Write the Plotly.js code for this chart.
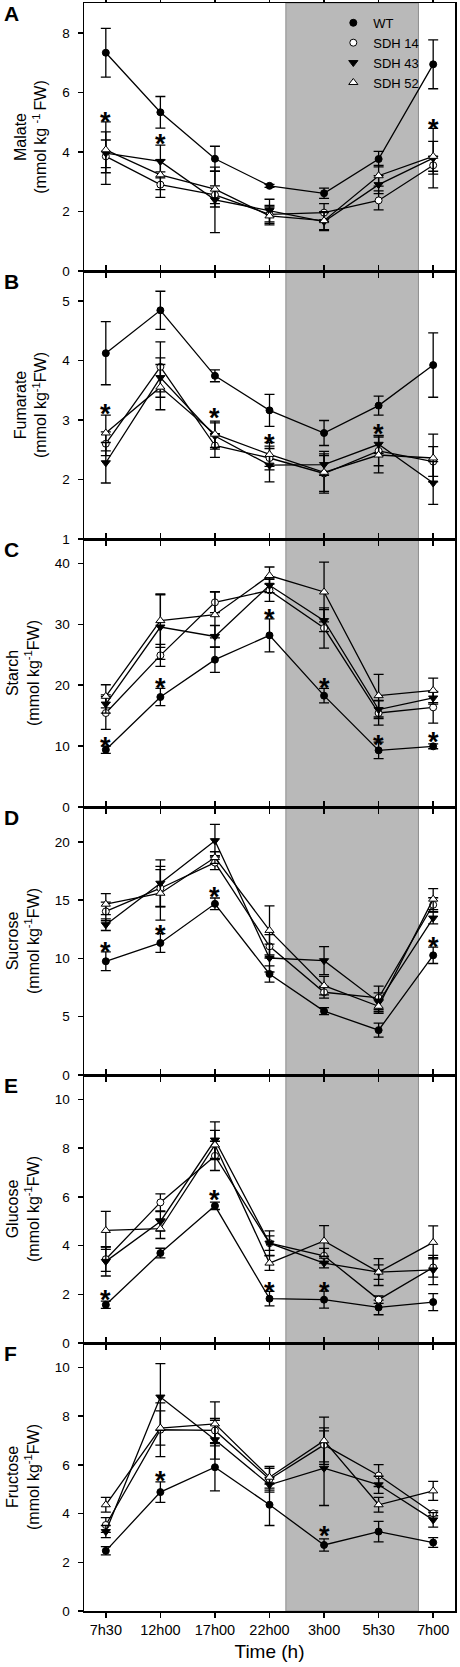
<!DOCTYPE html>
<html><head><meta charset="utf-8">
<script src="https://cdn.plot.ly/plotly-3.0.1.min.js"></script>
<style>body{margin:0;padding:0;background:#fff}#chart{width:460px;height:1667px}</style>
</head><body><div id="chart"></div>
<script>
const times = ['7h30','12h00','17h00','22h00','3h00','5h30','7h00'];
const lineNames = ['WT','SDH 14','SDH 43','SDH 52'];

// A Malate
const malateWT = [7.33, 5.33, 3.77, 2.86, 2.61, 3.76, 6.94];
const malateWTErr = [0.82, 0.53, 0.42, 0.05, 0.17, 0.26, 0.82];
const malate14 = [3.85, 2.90, 2.56, 1.90, 1.96, 2.37, 3.55];
const malate14Err = [0.55, 0.43, 0.3, 0.3, 0.3, 0.32, 0.3];
const malate43 = [3.96, 3.68, 2.39, 2.03, 1.66, 2.90, 3.79];
const malate43Err = [1.05, 0.55, 1.1, 0.38, 0.3, 0.3, 1.0];
const malate52 = [4.07, 3.23, 2.75, 1.85, 1.69, 3.20, 3.85];
const malate52Err = [0.6, 0.5, 0.6, 0.3, 0.3, 0.35, 0.5];
const malateStarX = [0, 1, 6];
const malateStarY = [5.2, 4.47, 4.97];

// B Fumarate
const fumWT = [4.12, 4.84, 3.74, 3.16, 2.78, 3.24, 3.92];
const fumWTErr = [0.53, 0.32, 0.1, 0.27, 0.21, 0.16, 0.54];
const fum14 = [2.60, 3.89, 2.57, 2.36, 2.10, 2.48, 2.30];
const fum14Err = [0.2, 0.42, 0.2, 0.2, 0.3, 0.25, 0.25];
const fum43 = [2.28, 3.71, 2.73, 2.24, 2.25, 2.59, 1.94];
const fum43Err = [0.34, 0.33, 0.22, 0.28, 0.18, 0.15, 0.36];
const fum52 = [2.78, 3.55, 2.76, 2.42, 2.12, 2.41, 2.36];
const fum52Err = [0.3, 0.38, 0.22, 0.2, 0.35, 0.3, 0.4];
const fumStarX = [0, 2, 3, 5];
const fumStarY = [3.2, 3.13, 2.69, 2.87];

// C Starch
const starchWT = [9.4, 18.06, 24.19, 28.18, 18.28, 9.30, 9.96];
const starchWTErr = [0.6, 1.4, 2.1, 2.7, 1.2, 1.35, 0.4];
const starch14 = [15.43, 24.9, 33.6, 35.57, 29.38, 15.43, 16.36];
const starch14Err = [2.7, 1.8, 1.7, 1.8, 3.3, 2.0, 2.6];
const starch43 = [16.9, 29.55, 28.0, 36.4, 30.6, 16.0, 17.9];
const starch43Err = [1.5, 5.3, 1.8, 1.2, 1.8, 1.5, 1.0];
const starch52 = [18.17, 30.6, 31.57, 38.0, 35.3, 18.28, 19.15];
const starch52Err = [1.9, 4.4, 3.8, 1.4, 4.9, 3.5, 2.0];
const starchStarX = [0, 1, 3, 4, 5, 6];
const starchStarY = [10.8, 20.6, 31.8, 20.5, 11.2, 11.7];

// D Sucrose
const sucWT = [9.76, 11.33, 14.69, 8.67, 5.48, 3.85, 10.27];
const sucWTErr = [0.8, 0.8, 0.5, 0.7, 0.3, 0.6, 0.7];
const suc14 = [14.04, 16.03, 18.23, 11.04, 7.1, 6.62, 14.61];
const suc14Err = [0.8, 1.6, 0.6, 1.0, 0.5, 1.0, 0.6];
const suc43 = [12.9, 16.46, 20.11, 10.04, 9.81, 6.25, 13.47];
const suc43Err = [0.5, 2.0, 1.4, 1.2, 1.2, 0.8, 0.5];
const suc52 = [14.66, 15.6, 18.66, 12.41, 7.67, 5.9, 15.09];
const suc52Err = [0.9, 2.3, 0.5, 2.1, 0.8, 0.6, 0.9];
const sucStarX = [0, 1, 2, 6];
const sucStarY = [11.1, 12.5, 15.8, 11.5];

// E Glucose
const gluWT = [1.57, 3.69, 5.63, 1.82, 1.78, 1.46, 1.68];
const gluWTErr = [0.15, 0.2, 0.15, 0.3, 0.35, 0.3, 0.35];
const glu14 = [3.44, 5.77, 7.68, 4.10, 3.58, 1.78, 3.10];
const glu14Err = [0.5, 0.35, 0.6, 0.3, 0.3, 0.15, 0.4];
const glu43 = [3.35, 4.99, 8.33, 4.10, 3.28, 2.91, 3.0];
const glu43Err = [0.6, 0.4, 0.75, 0.5, 0.2, 0.3, 0.6];
const glu52 = [4.62, 4.69, 8.13, 3.28, 4.19, 2.91, 4.13];
const glu52Err = [0.78, 0.4, 0.6, 0.3, 0.63, 0.55, 0.68];
const gluStarX = [0, 2, 3, 4];
const gluStarY = [2.0, 6.1, 2.32, 2.35];

// F Fructose
const fruWT = [2.47, 4.88, 5.9, 4.36, 2.71, 3.26, 2.81];
const fruWTErr = [0.17, 0.42, 0.97, 0.85, 0.25, 0.42, 0.2];
const fru14 = [3.53, 7.44, 7.41, 5.41, 6.82, 5.56, 4.01];
const fru14Err = [0.3, 1.1, 0.5, 0.45, 0.7, 0.45, 0.1];
const fru43 = [3.26, 8.78, 7.03, 5.18, 5.86, 5.18, 3.74];
const fru43Err = [0.25, 1.37, 0.8, 0.3, 1.53, 0.35, 0.3];
const fru52 = [4.36, 7.51, 7.68, 5.49, 6.99, 4.36, 4.93];
const fru52Err = [0.3, 0.7, 0.9, 0.45, 0.97, 0.3, 0.39];
const fruStarX = [1, 4];
const fruStarY = [5.6, 3.33];

const panelLetters = ['A','B','C','D','E','F'];
const panelTitles = [
  'Malate<br>(mmol kg <sup>-1 </sup>FW)',
  'Fumarate<br>(mmol kg<sup>-1</sup>FW)',
  'Starch<br>(mmol kg<sup>-1</sup>FW)',
  'Sucrose<br>(mmol kg<sup>-1</sup>FW)',
  'Glucose<br>(mmol kg<sup>-1</sup>FW)',
  'Fructose<br>(mmol kg<sup>-1</sup>FW)'
];
const panelRanges = [[0,9],[1,5.5],[0,44],[0,23],[0,11],[0,11]];
const panelDticks = [2,1,10,5,2,2];
const darkStart = 3.3, darkEnd = 5.73;

const panels = [
  {s:[[malateWT,malateWTErr],[malate14,malate14Err],[malate43,malate43Err],[malate52,malate52Err]], sx:malateStarX, sy:malateStarY},
  {s:[[fumWT,fumWTErr],[fum14,fum14Err],[fum43,fum43Err],[fum52,fum52Err]], sx:fumStarX, sy:fumStarY},
  {s:[[starchWT,starchWTErr],[starch14,starch14Err],[starch43,starch43Err],[starch52,starch52Err]], sx:starchStarX, sy:starchStarY},
  {s:[[sucWT,sucWTErr],[suc14,suc14Err],[suc43,suc43Err],[suc52,suc52Err]], sx:sucStarX, sy:sucStarY},
  {s:[[gluWT,gluWTErr],[glu14,glu14Err],[glu43,glu43Err],[glu52,glu52Err]], sx:gluStarX, sy:gluStarY},
  {s:[[fruWT,fruWTErr],[fru14,fru14Err],[fru43,fru43Err],[fru52,fru52Err]], sx:fruStarX, sy:fruStarY}
];

const markerStyles = [
  {symbol:'circle', size:7, color:'black', line:{color:'black', width:1}},
  {symbol:'circle', size:7, color:'white', line:{color:'black', width:1}},
  {symbol:'triangle-down', size:8, color:'black', line:{color:'black', width:1}},
  {symbol:'triangle-up', size:8, color:'white', line:{color:'black', width:1}}
];

const FONT = 'Liberation Sans, Arial, sans-serif';
const traces = [];
const annotations = [];
const layout = {
  width: 460, height: 1667,
  margin: {l:84, r:5, t:3, b:56},
  paper_bgcolor: 'white', plot_bgcolor: 'rgba(0,0,0,0)',
  font: {family: FONT, color: 'black'},
  showlegend: true,
  legend: {x: 0.672, y: 0.997, xanchor:'left', yanchor:'top', bgcolor:'rgba(0,0,0,0)',
           font:{size:13, family:FONT}, tracegroupgap:0},
  shapes: [{type:'rect', xref:'x', yref:'paper', x0:darkStart, x1:darkEnd, y0:0, y1:1,
            fillcolor:'#b9b9b9', line:{color:'#8e8e8e', width:1}, layer:'below'}],
  annotations: annotations
};

const n = panels.length;
panels.forEach((p, k) => {
  const i = k + 1;
  const xa = i === 1 ? 'x' : 'x' + i;
  const ya = i === 1 ? 'y' : 'y' + i;
  p.s.forEach((pair, j) => {
    traces.push({
      type:'scatter', mode:'lines+markers', x: times, y: pair[0],
      xaxis: xa, yaxis: ya, name: lineNames[j], showlegend:false,
      line:{color:'black', width:1.3},
      marker: markerStyles[j],
      error_y:{type:'data', array: pair[1], visible:true, color:'black', thickness:1.3, width:5},
      cliponaxis:false
    });
  });
  p.sx.forEach((xv, m) => {
    annotations.push({xref: xa, yref: ya, x: xv, y: p.sy[m], text:'<b>*</b>', showarrow:false,
      font:{size:27, family:FONT, color:'black'}, yanchor:'middle', yshift:-6});
  });
  const top = 1 - k / n, bot = 1 - (k + 1) / n;
  const xaxis = {
    anchor: ya, domain:[0,1], type:'category', range:[-0.4, 6.4],
    showline:true, linecolor:'black', linewidth:1.5, mirror:'ticks',
    ticks:'outside', ticklen:5, tickwidth:1.5, tickcolor:'black',
    showgrid:false, zeroline:false,
    showticklabels: i === n, tickfont:{size:14.5, family:FONT}
  };
  if (i === n) xaxis.title = {text:'Time (h)', font:{size:19, family:FONT}, standoff:8};
  layout[i === 1 ? 'xaxis' : 'xaxis' + i] = xaxis;
  layout[i === 1 ? 'yaxis' : 'yaxis' + i] = {
    anchor: xa, domain:[bot, top], range: panelRanges[k], dtick: panelDticks[k], tick0: 0,
    showline:true, linecolor:'black', linewidth:1.5, mirror:true,
    ticks:'outside', ticklen:5, tickwidth:1.5, tickcolor:'black', ticklabelstandoff:5,
    showgrid:false, zeroline:false, tickfont:{size:13.5, family:FONT},
    title:{text: panelTitles[k], font:{size:16, family:FONT}, standoff:11}
  };
  annotations.push({xref:'paper', yref:'paper', x:-0.222, y: top, xanchor:'left', yanchor:'top',
    yshift:3, text:'<b>' + panelLetters[k] + '</b>', showarrow:false,
    font:{size:21, family:FONT, color:'black'}});
});

// legend-only marker entries
lineNames.forEach((nm, j) => {
  traces.push({type:'scatter', mode:'markers', x:[null], y:[null], xaxis:'x', yaxis:'y',
    name: nm, showlegend:true, marker: markerStyles[j], hoverinfo:'skip'});
});

Plotly.newPlot('chart', traces, layout, {staticPlot:true});
</script>
</body></html>
